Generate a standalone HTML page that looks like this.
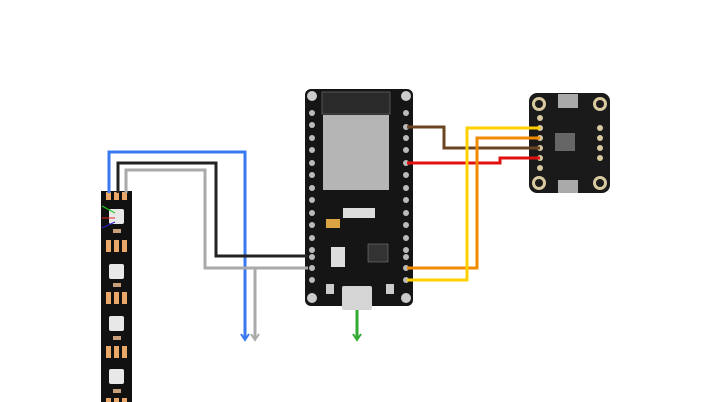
<!DOCTYPE html>
<html><head><meta charset="utf-8"><style>
html,body{margin:0;padding:0;background:#fff;width:715px;height:402px;overflow:hidden}
svg{display:block}
text{font-family:"Liberation Sans",sans-serif}
</style></head><body>
<svg width="715" height="402" viewBox="0 0 715 402" xmlns="http://www.w3.org/2000/svg">
<!-- LED strip -->
<rect x="101" y="191" width="31" height="211" fill="#111"/>
<g fill="#e9a86a">
<rect x="106" y="192" width="5" height="8"/><rect x="114" y="192" width="5" height="8"/><rect x="122" y="192" width="5" height="8"/>
<rect x="106" y="240" width="5" height="12"/><rect x="114" y="240" width="5" height="12"/><rect x="122" y="240" width="5" height="12"/>
<rect x="106" y="292" width="5" height="12"/><rect x="114" y="292" width="5" height="12"/><rect x="122" y="292" width="5" height="12"/>
<rect x="106" y="346" width="5" height="12"/><rect x="114" y="346" width="5" height="12"/><rect x="122" y="346" width="5" height="12"/>
<rect x="106" y="398" width="5" height="4"/><rect x="114" y="398" width="5" height="4"/><rect x="122" y="398" width="5" height="4"/>
</g>
<g fill="#e8e8e8">
<rect x="109" y="209" width="15" height="15" rx="2"/>
<rect x="109" y="264" width="15" height="15" rx="2"/>
<rect x="109" y="316" width="15" height="15" rx="2"/>
<rect x="109" y="369" width="15" height="15" rx="2"/>
</g>
<g fill="#c9a07a">
<rect x="113" y="229" width="8" height="4"/><rect x="113" y="283" width="8" height="4"/><rect x="113" y="336" width="8" height="4"/><rect x="113" y="389" width="8" height="4"/>
</g>
<line x1="102" y1="206" x2="115" y2="213" stroke="#2c2" stroke-width="1"/>
<line x1="102" y1="218" x2="115" y2="218" stroke="#e22" stroke-width="1"/>
<line x1="102" y1="228" x2="115" y2="222" stroke="#22c" stroke-width="1"/>

<!-- ESP32 board -->
<rect x="305" y="89" width="108" height="217" rx="6" fill="#151515"/>
<rect x="322" y="92" width="68" height="22" fill="#2a2a2a" stroke="#555" stroke-width="1"/>
<rect x="323" y="115" width="66" height="75" fill="#b5b5b5"/>
<rect x="343" y="208" width="32" height="10" fill="#ddd"/>
<rect x="326" y="219" width="14" height="9" fill="#d9a441"/>
<rect x="331" y="247" width="14" height="20" fill="#ddd"/>
<rect x="368" y="244" width="20" height="18" fill="#333" stroke="#888" stroke-width="0.5"/>
<g fill="#ccc">
<circle cx="312" cy="96" r="5"/><circle cx="406" cy="96" r="5"/><circle cx="312" cy="298" r="5"/><circle cx="406" cy="298" r="5"/>
</g>
<g fill="#bbb">
<circle cx="312" cy="113" r="3"/><circle cx="312" cy="125" r="3"/><circle cx="312" cy="138" r="3"/><circle cx="312" cy="150" r="3"/><circle cx="312" cy="163" r="3"/><circle cx="312" cy="175" r="3"/><circle cx="312" cy="188" r="3"/><circle cx="312" cy="200" r="3"/><circle cx="312" cy="213" r="3"/><circle cx="312" cy="225" r="3"/><circle cx="312" cy="238" r="3"/><circle cx="312" cy="250" r="3"/><circle cx="312" cy="257" r="3"/><circle cx="312" cy="268" r="3"/><circle cx="312" cy="280" r="3"/>
<circle cx="406" cy="113" r="3"/><circle cx="406" cy="127" r="3"/><circle cx="406" cy="138" r="3"/><circle cx="406" cy="150" r="3"/><circle cx="406" cy="163" r="3"/><circle cx="406" cy="175" r="3"/><circle cx="406" cy="188" r="3"/><circle cx="406" cy="200" r="3"/><circle cx="406" cy="213" r="3"/><circle cx="406" cy="225" r="3"/><circle cx="406" cy="238" r="3"/><circle cx="406" cy="250" r="3"/><circle cx="406" cy="257" r="3"/><circle cx="406" cy="268" r="3"/><circle cx="406" cy="280" r="3"/>
</g>
<rect x="326" y="284" width="8" height="10" fill="#ccc"/><rect x="386" y="284" width="8" height="10" fill="#ccc"/>
<rect x="342" y="286" width="30" height="24" rx="2" fill="#d5d5d5"/>

<!-- Sensor board -->
<rect x="529" y="93" width="81" height="100" rx="8" fill="#1a1a1a"/>
<g fill="#d8c9a0"><circle cx="539" cy="104" r="7"/><circle cx="600" cy="104" r="7"/><circle cx="539" cy="183" r="7"/><circle cx="600" cy="183" r="7"/></g>
<g fill="#1a1a1a"><circle cx="539" cy="104" r="4"/><circle cx="600" cy="104" r="4"/><circle cx="539" cy="183" r="4"/><circle cx="600" cy="183" r="4"/></g>
<rect x="558" y="94" width="20" height="14" fill="#aaa"/>
<rect x="558" y="180" width="20" height="13" fill="#aaa"/>
<rect x="555" y="133" width="20" height="18" fill="#666"/>
<g fill="#d8c9a0">
<circle cx="540" cy="118" r="3"/><circle cx="540" cy="128" r="3"/><circle cx="540" cy="138" r="3"/><circle cx="540" cy="148" r="3"/><circle cx="540" cy="158" r="3"/><circle cx="540" cy="168" r="3"/>
<circle cx="600" cy="128" r="3"/><circle cx="600" cy="138" r="3"/><circle cx="600" cy="148" r="3"/><circle cx="600" cy="158" r="3"/>
</g>

<!-- wires -->
<g fill="none" stroke-width="3" stroke-linejoin="miter">
<polyline points="109,193 109,152 245,152 245,338" stroke="#3a78f0"/>
<polyline points="118,193 118,163 216,163 216,256 308,256" stroke="#222"/>
<polyline points="126,193 126,170 205,170 205,268 308,268" stroke="#aaa"/>
<polyline points="255,268 255,338" stroke="#aaa"/>
<line x1="357" y1="310" x2="357" y2="338" stroke="#3a3"/>
<polyline points="407,127 444,127 444,148 540,148" stroke="#6b4420"/>
<polyline points="407,163 500,163 500,158 540,158" stroke="#e01010"/>
<polyline points="407,268 477,268 477,138 540,138" stroke="#f08a00"/>
<polyline points="407,280 467,280 467,128 540,128" stroke="#ffd000"/>
</g>
<g fill="none" stroke-width="2">
<polyline points="241,334 245,340 249,334" stroke="#3a78f0"/>
<polyline points="251,334 255,340 259,334" stroke="#aaa"/>
<polyline points="353,334 357,340 361,334" stroke="#3a3"/>
</g>
</svg>
</body></html>
